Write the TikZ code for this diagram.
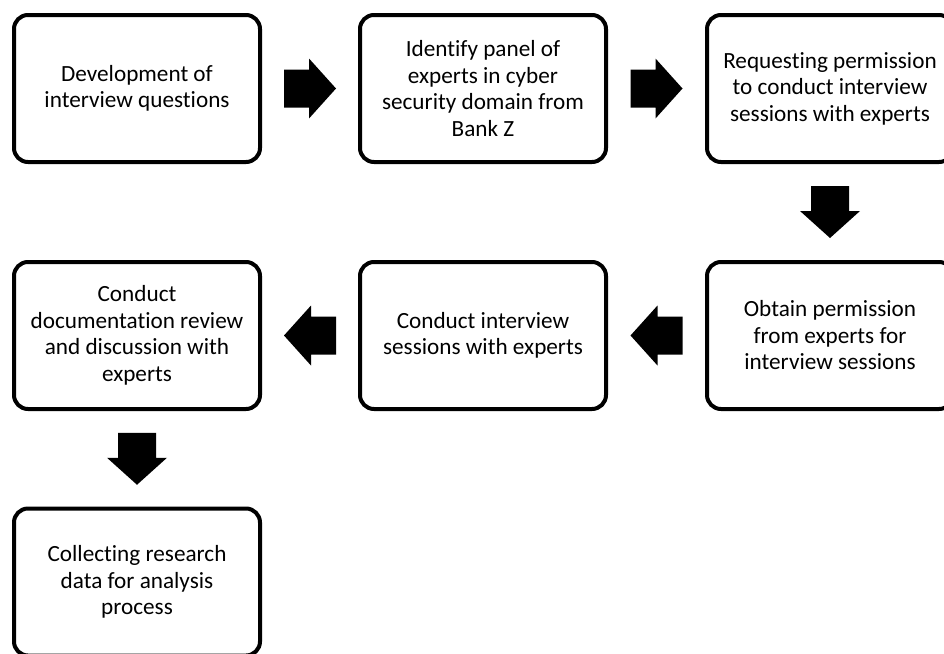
\documentclass[tikz,border=0pt]{standalone}
\usepackage{fontspec}
\setmainfont{Carlito}[Ligatures={NoCommon}]
\usetikzlibrary{calc}
\begin{document}
\begin{tikzpicture}[x=1pt,y=-1pt,
  stepbox/.style={draw=black,line width=4pt,rounded corners=14pt,fill=white,
    minimum width=246pt,minimum height=147pt,align=center,inner sep=4pt,
    font=\fontsize{23.2}{26.5}\selectfont,text=black},
  blockarrow/.pic={\fill[black] (-26,-19) -- (-1,-19) -- (-1,-30) -- (26,0)
    -- (-1,30) -- (-1,19) -- (-26,19) -- cycle;}]
\useasboundingbox (0,0) rectangle (944,653);
\clip (0,0) rectangle (944,653);
% first row
\node[stepbox] (dev) at (137,88.5) {Development of\\interview questions};
\node[stepbox] (panel) at (483,88.5) {Identify panel of\\experts in cyber\\security domain from\\Bank Z};
\node[stepbox] (req) at (830,88.5) {Requesting permission\\to conduct interview\\sessions with experts};
% second row
\node[stepbox] (obtain) at (830,335.5) {Obtain permission\\from experts for\\interview sessions};
\node[stepbox] (conduct) at (483,335.5) {Conduct interview\\sessions with experts};
\node[stepbox] (review) at (137,335.5) {Conduct\\documentation review\\and discussion with\\experts};
% last step
\node[stepbox] (collect) at (137,582) {Collecting research\\data for analysis\\process};
% block arrows between the steps
\pic at ($(dev.east)!0.5!(panel.west)$) {blockarrow};
\pic at ($(panel.east)!0.5!(req.west)$) {blockarrow};
\pic[rotate=-90] at ($(req.south)!0.5!(obtain.north)$) {blockarrow};
\pic[rotate=180] at ($(obtain.west)!0.5!(conduct.east)$) {blockarrow};
\pic[rotate=180] at ($(conduct.west)!0.5!(review.east)$) {blockarrow};
\pic[rotate=-90] at ($(review.south)!0.5!(collect.north)$) {blockarrow};
\end{tikzpicture}
\end{document}
